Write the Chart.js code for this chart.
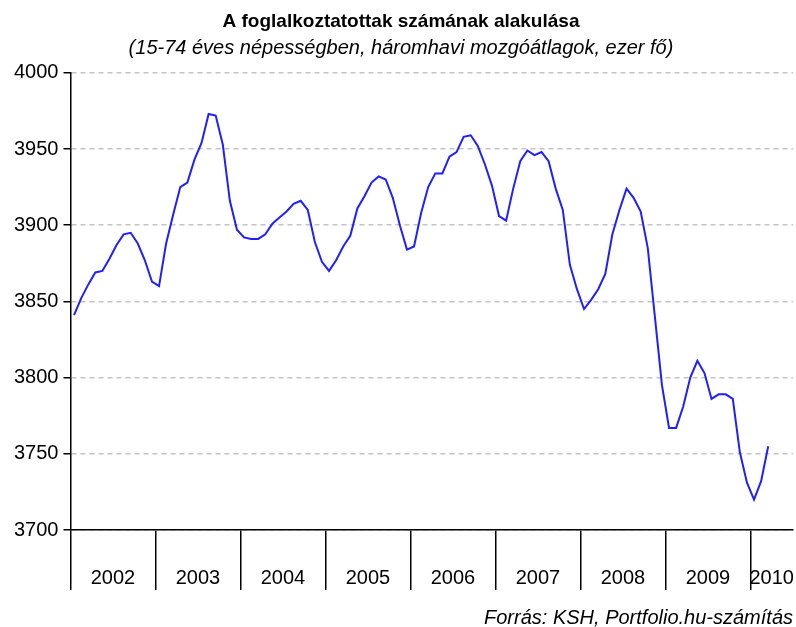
<!DOCTYPE html>
<html>
<head>
<meta charset="utf-8">
<script src="https://cdn.jsdelivr.net/npm/chart.js@4.4.1/dist/chart.umd.min.js"></script>
<style>
  html, body { margin: 0; padding: 0; background: #fff; }
  #wrap { width: 796px; height: 627px; }
</style>
</head>
<body>
<div id="wrap"><canvas id="c" width="796" height="627"></canvas></div>
<script>
const titleText = "A foglalkoztatottak számának alakulása";
const subtitleText = "(15-74 éves népességben, háromhavi mozgóátlagok, ezer fő)";
const sourceText = "Forrás: KSH, Portfolio.hu-számítás";

const years = [2002, 2003, 2004, 2005, 2006, 2007, 2008, 2009, 2010];
const monthsInLastYear = 6;

// Employment, thousand persons (3-month moving averages), Jan 2002 – Mar 2010
const employment = [
  3841, 3852, 3861, 3869, 3870, 3878, 3887, 3894, 3895, 3888, 3877, 3863,
  3860, 3888, 3907, 3925, 3928, 3943, 3954, 3973, 3972, 3953, 3916, 3897,
  3892, 3891, 3891, 3894, 3901, 3905, 3909, 3914, 3916, 3910, 3889, 3876,
  3870, 3877, 3886, 3893, 3911, 3919, 3928, 3932, 3930, 3918, 3900, 3884,
  3886, 3908, 3925, 3934, 3934, 3945, 3948, 3958, 3959, 3952, 3940, 3926,
  3906, 3903, 3924, 3942, 3949, 3946, 3948, 3942, 3924, 3910, 3874, 3858,
  3845, 3851, 3858, 3868, 3894, 3910, 3924, 3918, 3909, 3885, 3840, 3795,
  3767, 3767, 3781, 3800, 3811, 3803, 3786, 3789, 3789, 3786, 3751, 3731,
  3720, 3732, 3755
];

const yTicks = [3700, 3750, 3800, 3850, 3900, 3950, 4000];

// month labels
const labels = [];
years.forEach((y, yi) => {
  const n = (yi === years.length - 1) ? monthsInLastYear : 12;
  for (let m = 1; m <= n; m++) labels.push(y + "." + String(m).padStart(2, "0"));
});

// index where each year's label sits (middle of the year block)
const yearLabelAt = {};
let start = 0;
years.forEach((y, yi) => {
  const n = (yi === years.length - 1) ? monthsInLastYear : 12;
  yearLabelAt[start + n / 2] = String(y);
  start += n;
});

const sourcePlugin = {
  id: 'sourceText',
  afterDraw(chart) {
    const ctx = chart.ctx;
    ctx.save();
    ctx.font = "italic 20px 'Liberation Sans', Arial, sans-serif";
    ctx.fillStyle = '#000';
    ctx.textAlign = 'right';
    ctx.textBaseline = 'alphabetic';
    ctx.fillText(sourceText, chart.width - 3, 624);
    ctx.restore();
  }
};

const font = "'Liberation Sans', Arial, sans-serif";

new Chart(document.getElementById('c'), {
  type: 'line',
  data: {
    labels: labels,
    datasets: [{
      data: employment,
      borderColor: '#1f1fff',
      borderWidth: 2,
      pointRadius: 0,
      tension: 0,
      fill: false
    }]
  },
  plugins: [sourcePlugin],
  options: {
    responsive: false,
    animation: false,
    devicePixelRatio: 1,
    layout: { padding: { left: 9, right: 3, top: 0, bottom: 37 } },
    plugins: {
      legend: { display: false },
      tooltip: { enabled: false },
      title: {
        display: true,
        text: titleText,
        color: '#000',
        font: { family: font, size: 19, weight: 'bold' },
        padding: { top: 10, bottom: 4 }
      },
      subtitle: {
        display: true,
        text: subtitleText,
        color: '#000',
        font: { family: font, size: 20, style: 'italic' },
        padding: { top: 0, bottom: 12 }
      }
    },
    scales: {
      x: {
        type: 'category',
        offset: true,
        grid: {
          offset: true,
          drawOnChartArea: false,
          drawTicks: true,
          tickLength: 60,
          lineWidth: 1.5,
          color: (ctx) => (ctx.index % 12 === 0 || ctx.index === labels.length) ? '#000' : 'rgba(0,0,0,0)'
        },
        border: { display: true, color: '#000', width: 1.5 },
        ticks: {
          autoSkip: false,
          maxRotation: 0,
          minRotation: 0,
          padding: -24,
          labelOffset: -3.55,
          color: '#000',
          font: { family: font, size: 20, lineHeight: 1.2 },
          callback: (val, idx) => yearLabelAt[idx] ? [yearLabelAt[idx], ''] : ''
        }
      },
      y: {
        min: 3700,
        max: 4000,
        afterBuildTicks: (axis) => { axis.ticks = yTicks.map(v => ({ value: v })); },
        grid: {
          color: '#c4c4c4',
          lineWidth: 1.5,
          tickLength: 7,
          tickColor: '#000',
          tickBorderDash: [],
          tickWidth: 1.5
        },
        border: { display: true, color: '#000', width: 1.5, dash: [5, 4] },
        ticks: {
          padding: 5,
          color: '#000',
          font: { family: font, size: 20 },
          callback: (v) => String(v)
        }
      }
    }
  }
});
</script>
</body>
</html>
